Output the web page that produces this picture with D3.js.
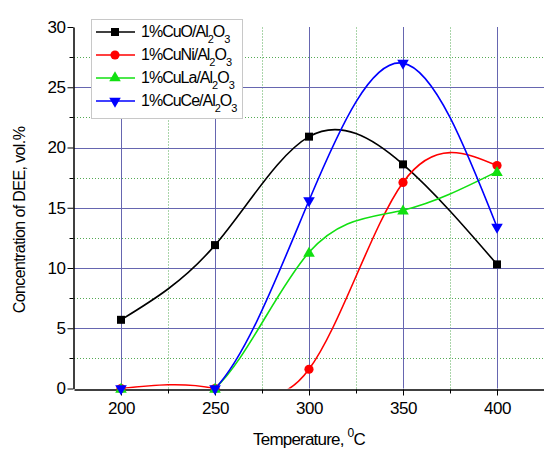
<!DOCTYPE html>
<html>
<head>
<meta charset="utf-8">
<script src="https://cdn.jsdelivr.net/npm/d3@7"></script>
<style>
  body { margin: 0; background: #fff; }
  svg { font-family: "Liberation Sans", Arial, sans-serif; }
  .tick text { font-size: 17px; letter-spacing: -0.5px; fill: #000; }
</style>
</head>
<body>
<script>
const temps = [200, 250, 300, 350, 400];
const seriesNames = ["1%CuO/Al", "1%CuNi/Al", "1%CuLa/Al", "1%CuCe/Al"];
const cuO = [5.7, 11.9, 20.9, 18.6, 10.3];
const cuNi = [0, 0, 1.6, 17.1, 18.5];
const cuLa = [0, 0, 11.3, 14.8, 18.0];
const cuCe = [0, 0, 15.6, 27.0, 13.4];
const xTicks = [200, 250, 300, 350, 400];
const yTicks = [0, 5, 10, 15, 20, 25, 30];

const width = 544;
const height = 449;
const margin = { top: 27, right: 0, bottom: 60, left: 74 };

const series = [
  { name: seriesNames[0], values: cuO, color: "#000000", shape: "square" },
  { name: seriesNames[1], values: cuNi, color: "#ff0000", shape: "circle" },
  { name: seriesNames[2], values: cuLa, color: "#11e011", shape: "up" },
  { name: seriesNames[3], values: cuCe, color: "#0000ff", shape: "down" },
];

const x = d3.scaleLinear().domain([175, 425]).range([margin.left, width - margin.right]);
const y = d3.scaleLinear().domain([0, 30]).range([height - margin.bottom - 0.5, margin.top]);

const svg = d3.select("body").append("svg").attr("width", width).attr("height", height);

svg.append("defs").append("clipPath").attr("id", "plot")
  .append("rect")
  .attr("x", margin.left).attr("y", margin.top)
  .attr("width", width - margin.left - margin.right)
  .attr("height", y(0) - margin.top);

// grid: minor dotted, major solid
const grid = svg.append("g");
const xMinor = d3.range(225, 425, 50);
const yMinor = d3.range(2.5, 30, 5);
grid.selectAll(".xm").data(xMinor).join("line")
  .attr("x1", (d) => Math.round(x(d)) + 0.5).attr("x2", (d) => Math.round(x(d)) + 0.5)
  .attr("y1", y(0)).attr("y2", margin.top)
  .attr("stroke", "#55aa55").attr("stroke-dasharray", "1,2");
grid.selectAll(".ym").data(yMinor).join("line")
  .attr("x1", margin.left).attr("x2", width)
  .attr("y1", (d) => Math.round(y(d)) + 0.5).attr("y2", (d) => Math.round(y(d)) + 0.5)
  .attr("stroke", "#55aa55").attr("stroke-dasharray", "1,2");
grid.selectAll(".xM").data(xTicks).join("line")
  .attr("x1", (d) => Math.round(x(d)) + 0.5).attr("x2", (d) => Math.round(x(d)) + 0.5)
  .attr("y1", y(0)).attr("y2", margin.top)
  .attr("stroke", "#6666b0");
grid.selectAll(".yM").data(yTicks.slice(1, -1)).join("line")
  .attr("x1", margin.left).attr("x2", width)
  .attr("y1", (d) => Math.round(y(d)) + 0.5).attr("y2", (d) => Math.round(y(d)) + 0.5)
  .attr("stroke", "#6666b0");

// axes
const xAxis = svg.append("g")
  .attr("transform", `translate(0,${Math.round(y(0)) + 0.5})`)
  .call(d3.axisBottom(x).tickValues(xTicks).tickSize(6).tickSizeOuter(0).tickPadding(6));
xAxis.append("g").selectAll("line").data(xMinor).join("line")
  .attr("x1", (d) => Math.round(x(d)) + 0.5).attr("x2", (d) => Math.round(x(d)) + 0.5)
  .attr("y1", 0).attr("y2", 4).attr("stroke", "#000");
xAxis.select(".domain").attr("stroke-width", 1.5);

const yAxis = svg.append("g")
  .attr("transform", `translate(${margin.left - 0.5},0)`)
  .call(d3.axisLeft(y).tickValues(yTicks).tickSize(6).tickSizeOuter(0).tickPadding(2));
yAxis.append("g").selectAll("line").data(yMinor).join("line")
  .attr("y1", (d) => Math.round(y(d)) + 0.5).attr("y2", (d) => Math.round(y(d)) + 0.5)
  .attr("x1", 0).attr("x2", -4).attr("stroke", "#000");
yAxis.select(".domain").attr("stroke-width", 1.5);

// axis titles
const xTitle = svg.append("text")
  .attr("x", (margin.left + width) / 2).attr("y", 445)
  .attr("text-anchor", "middle")
  .style("font-size", "17px").style("letter-spacing", "-0.8px");
xTitle.append("tspan").text("Temperature, ");
xTitle.append("tspan").attr("dy", -8).style("font-size", "12px").text("0");
xTitle.append("tspan").attr("dy", 8).text("C");

svg.append("text")
  .attr("transform", `translate(25,220) rotate(-90)`)
  .attr("text-anchor", "middle")
  .style("font-size", "16px").style("letter-spacing", "-0.6px")
  .text("Concentration of DEE, vol.%");

// curves
const line = d3.line()
  .x((d, i) => x(temps[i]))
  .y((d) => y(d))
  .curve(d3.curveNatural);

const symbolOf = {
  square: d3.symbol(d3.symbolSquare, 64),
  circle: d3.symbol(d3.symbolCircle, 66),
  up: d3.symbol(d3.symbolTriangle, 58),
  down: d3.symbol(d3.symbolTriangle, 58),
};

const plot = svg.append("g");
series.forEach((s) => {
  plot.append("path")
    .datum(s.values)
    .attr("clip-path", "url(#plot)")
    .attr("fill", "none")
    .attr("stroke", s.color)
    .attr("stroke-width", 1.6)
    .attr("d", line);
});
series.forEach((s) => {
  plot.selectAll(null).data(s.values).join("path")
    .attr("transform", (d, i) =>
      `translate(${x(temps[i])},${y(d)})` + (s.shape === "down" ? " rotate(180)" : "") +
      (s.shape === "up" ? " translate(0,1)" : ""))
    .attr("d", symbolOf[s.shape]())
    .attr("fill", s.color);
});

// legend
const legend = svg.append("g").attr("transform", "translate(91,19)");
legend.append("rect")
  .attr("x", 0.5).attr("y", 0.5).attr("width", 151).attr("height", 99)
  .attr("fill", "#fff").attr("stroke", "#c8c8c8");
series.forEach((s, i) => {
  const g = legend.append("g").attr("transform", `translate(0,${13 + i * 23})`);
  g.append("line").attr("x1", 5).attr("x2", 44).attr("stroke", s.color).attr("stroke-width", 1.6);
  g.append("path")
    .attr("transform", `translate(24,0)` + (s.shape === "down" ? " rotate(180)" : ""))
    .attr("d", symbolOf[s.shape]())
    .attr("fill", s.color);
  const t = g.append("text").attr("x", 50).attr("y", 5)
    .style("font-size", "16px").style("letter-spacing", "-1px");
  t.append("tspan").text(s.name);
  t.append("tspan").attr("dy", 6).style("font-size", "11px").text("2");
  t.append("tspan").attr("dy", -6).text("O");
  t.append("tspan").attr("dy", 6).style("font-size", "11px").text("3");
});
</script>
</body>
</html>
